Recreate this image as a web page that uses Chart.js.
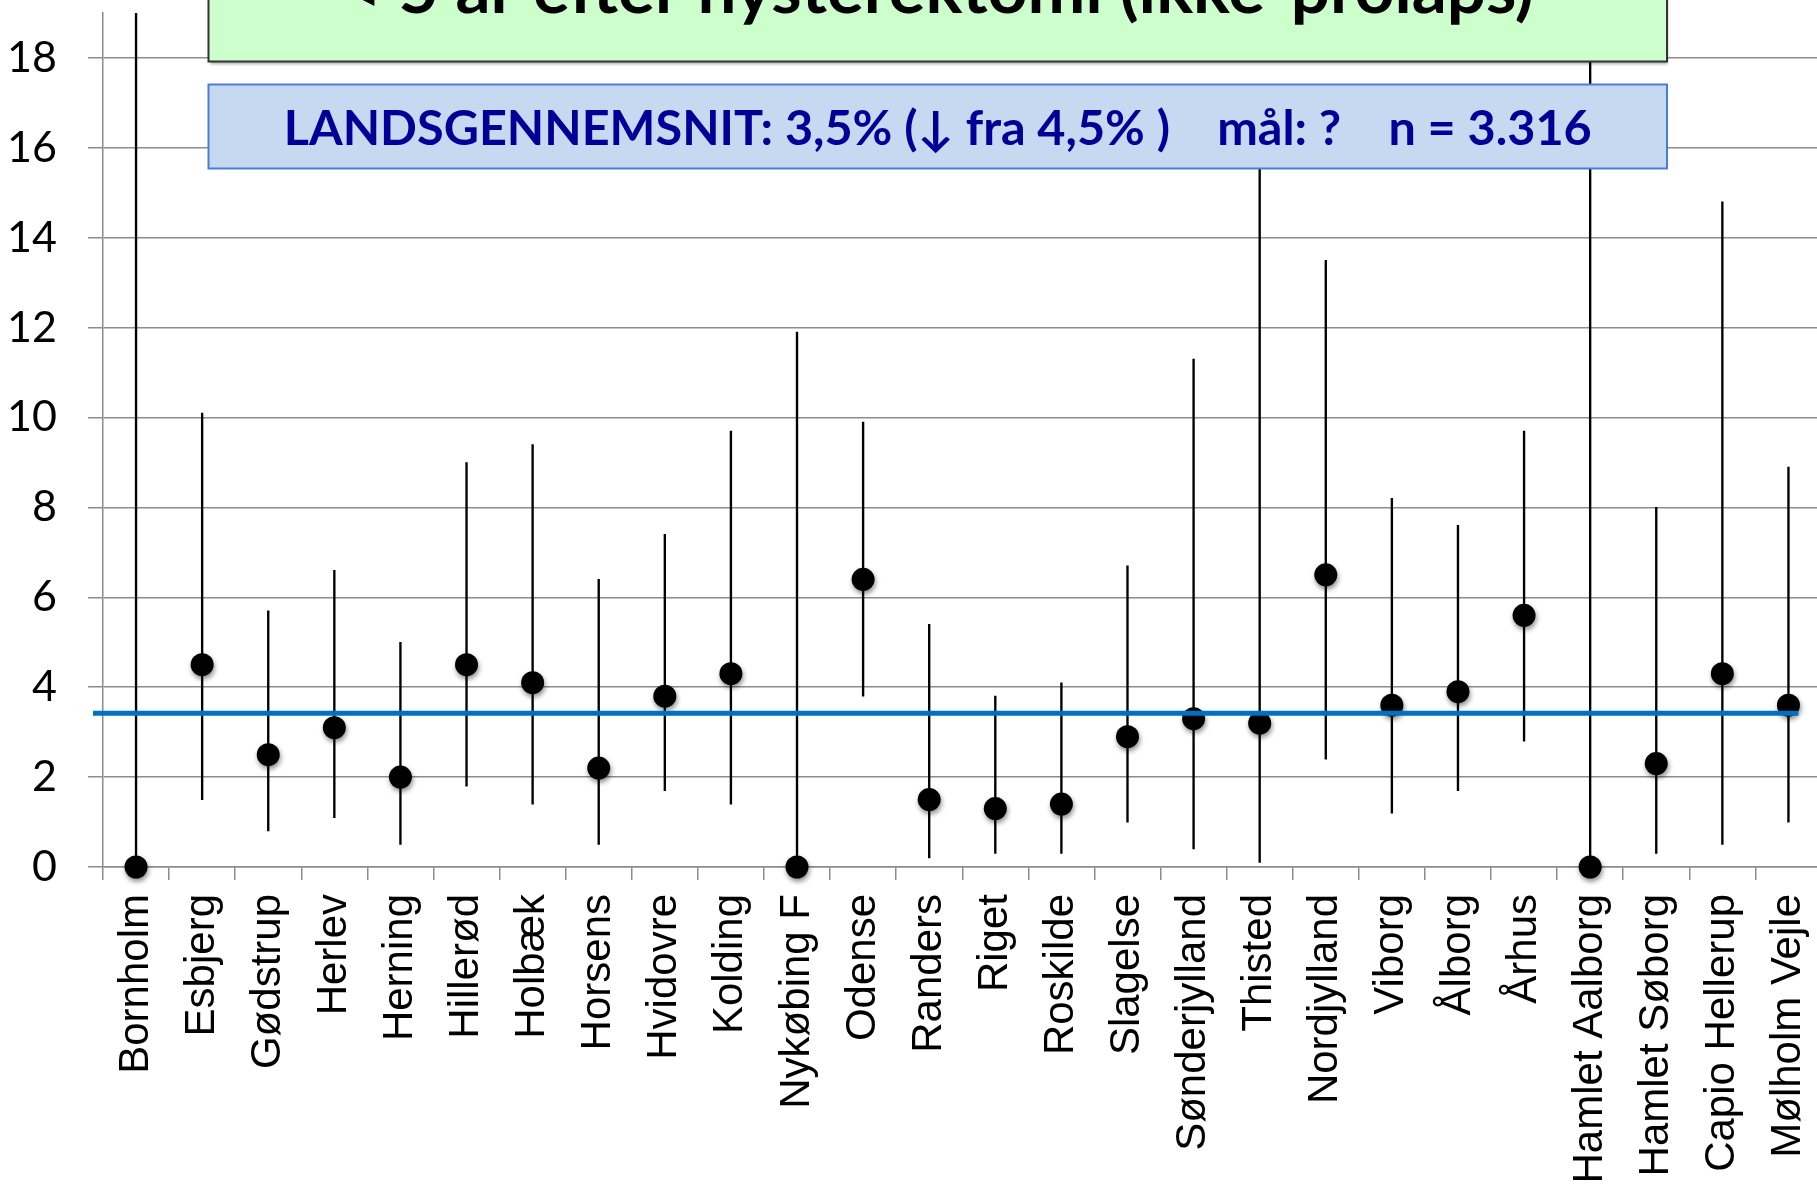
<!DOCTYPE html>
<html>
<head>
<meta charset="utf-8">
<script src="https://cdn.jsdelivr.net/npm/chart.js@4.4.1/dist/chart.umd.min.js"></script>
<style>
  html, body { margin: 0; padding: 0; background: #fff; overflow: hidden; }
  #wrap { position: relative; width: 1817px; height: 1186px; overflow: hidden; }
  canvas { display: block; }
</style>
</head>
<body>
<div id="wrap"><canvas id="ciChart" width="1833" height="1186"></canvas></div>
<script>
// Afdelinger
const hospitals = ['Bornholm', 'Esbjerg', 'Gødstrup', 'Herlev', 'Herning', 'Hillerød', 'Holbæk', 'Horsens',
  'Hvidovre', 'Kolding', 'Nykøbing F', 'Odense', 'Randers', 'Riget', 'Roskilde', 'Slagelse',
  'Sønderjylland', 'Thisted', 'Nordjylland', 'Viborg', 'Ålborg', 'Århus', 'Hamlet Aalborg',
  'Hamlet Søborg', 'Capio Hellerup', 'Mølholm Vejle'];

// andel (%) med 95% konfidensinterval
const andel = [0, 4.5, 2.5, 3.1, 2.0, 4.5, 4.1, 2.2, 3.8, 4.3, 0, 6.4, 1.5, 1.3, 1.4, 2.9,
  3.3, 3.2, 6.5, 3.6, 3.9, 5.6, 0, 2.3, 4.3, 3.6];
const nedre = [0, 1.5, 0.8, 1.1, 0.5, 1.8, 1.4, 0.5, 1.7, 1.4, 0, 3.8, 0.2, 0.3, 0.3, 1.0,
  0.4, 0.1, 2.4, 1.2, 1.7, 2.8, 0, 0.3, 0.5, 1.0];
const oevre = [30, 10.1, 5.7, 6.6, 5.0, 9.0, 9.4, 6.4, 7.4, 9.7, 11.9, 9.9, 5.4, 3.8, 4.1, 6.7,
  11.3, 16.5, 13.5, 8.2, 7.6, 9.7, 30, 8.0, 14.8, 8.9];

const landsgennemsnit = [3.42];
const yTicks = [0, 2, 4, 6, 8, 10, 12, 14, 16, 18];

const titel = '< 5 år efter hysterektomi (ikke-prolaps)';
const undertitel = 'LANDSGENNEMSNIT: 3,5% (↓ fra 4,5% )    mål: ?    n = 3.316';

const GRID = '#8c8c8c';

// tekst presset sammen til en given bredde (Calibri-agtig)
function fitText(ctx, text, cx, y, width) {
  const w = ctx.measureText(text).width;
  ctx.save();
  ctx.translate(cx, y);
  ctx.scale(width / w, 1);
  ctx.textAlign = 'center';
  ctx.textBaseline = 'alphabetic';
  ctx.fillText(text, 0, 0);
  ctx.restore();
}

const overlay = {
  id: 'overlay',
  beforeDatasetDraw(chart, args) {
    if (args.index === 0) {
      const ctx = chart.ctx;
      ctx.save();
      ctx.shadowColor = 'rgba(0,0,0,0.45)';
      ctx.shadowBlur = 5;
      ctx.shadowOffsetX = 1;
      ctx.shadowOffsetY = 3;
    }
  },
  afterDatasetDraw(chart, args) {
    if (args.index === 0) chart.ctx.restore();
  },
  afterDatasetsDraw(chart) {
    const ctx = chart.ctx;
    const x = chart.scales.x, y = chart.scales.y;
    // landsgennemsnit
    const yy = y.getPixelForValue(landsgennemsnit[0]);
    ctx.save();
    ctx.strokeStyle = '#0070c0';
    ctx.lineWidth = 5;
    ctx.beginPath();
    ctx.moveTo(chart.chartArea.left - 10, yy);
    ctx.lineTo(x.getPixelForValue(hospitals.length - 1) + 10, yy);
    ctx.stroke();
    ctx.restore();
  },
  afterDraw(chart) {
    const ctx = chart.ctx;
    const left = 208.5, right = 1667;
    ctx.save();
    // grøn titelboks
    ctx.shadowColor = 'rgba(0,0,0,0.35)';
    ctx.shadowBlur = 3;
    ctx.shadowOffsetX = 1;
    ctx.shadowOffsetY = 2;
    ctx.fillStyle = '#ccffcc';
    ctx.fillRect(left, -20, right - left, 81.5);
    ctx.shadowColor = 'transparent';
    ctx.strokeStyle = '#333';
    ctx.lineWidth = 2;
    ctx.strokeRect(left, -20, right - left, 81.5);
    ctx.fillStyle = '#000';
    ctx.font = 'bold 66px Lato';
    fitText(ctx, titel, (left + right) / 2, 13, 1192);

    // blå boks
    ctx.fillStyle = '#c6d9f1';
    ctx.fillRect(left, 84.5, right - left, 84);
    ctx.strokeStyle = '#4a7ddb';
    ctx.lineWidth = 2;
    ctx.strokeRect(left, 84.5, right - left, 84);
    ctx.fillStyle = '#000096';
    ctx.font = 'bold 47px Lato, "DejaVu Sans"';
    fitText(ctx, undertitel, (left + right) / 2, 144.5, 1308);
    ctx.restore();
  }
};

const ctx = document.getElementById('ciChart').getContext('2d');
new Chart(ctx, {
  type: 'bar',
  data: {
    labels: hospitals,
    datasets: [{
      type: 'line',
      label: 'Andel',
      data: andel,
      showLine: false,
      pointRadius: 11.5,
      pointHoverRadius: 11.5,
      pointBackgroundColor: '#000',
      pointBorderColor: '#000',
      pointBorderWidth: 0,
      clip: false,
      order: 0
    }, {
      type: 'bar',
      label: '95% CI',
      data: nedre.map((v, i) => [v, oevre[i]]),
      backgroundColor: '#000',
      barThickness: 1.7,
      order: 1
    }]
  },
  options: {
    responsive: false,
    animation: false,
    layout: { padding: { top: 13, left: 0, right: 0, bottom: 0 } },
    plugins: {
      legend: { display: false },
      tooltip: { enabled: false }
    },
    scales: {
      x: {
        offset: true,
        grid: {
          offset: true,
          drawOnChartArea: false,
          drawTicks: true,
          tickLength: 13,
          color: GRID,
          lineWidth: 1.5
        },
        border: { display: true, color: GRID, width: 1.5 },
        ticks: {
          autoSkip: false,
          maxRotation: 90,
          minRotation: 90,
          padding: 14,
          color: '#000',
          font: { family: '"Liberation Sans", Arial, sans-serif', size: 42 }
        },
        afterFit(axis) {
          axis.height = 1186 - 867;
          axis.paddingLeft = 0;
          axis.paddingRight = 0;
        }
      },
      y: {
        min: 0,
        max: 19,
        afterBuildTicks(axis) {
          axis.ticks = yTicks.map(v => ({ value: v }));
        },
        grid: { color: GRID, lineWidth: 1.5, tickLength: 15 },
        border: { display: true, color: GRID, width: 1.5 },
        ticks: {
          padding: 31,
          color: '#000',
          font: { family: 'Lato, sans-serif', size: 43 }
        },
        afterFit(axis) {
          axis.width = 103;
          axis.paddingTop = 0;
          axis.paddingBottom = 0;
        }
      }
    }
  },
  plugins: [overlay]
});
</script>
</body>
</html>
